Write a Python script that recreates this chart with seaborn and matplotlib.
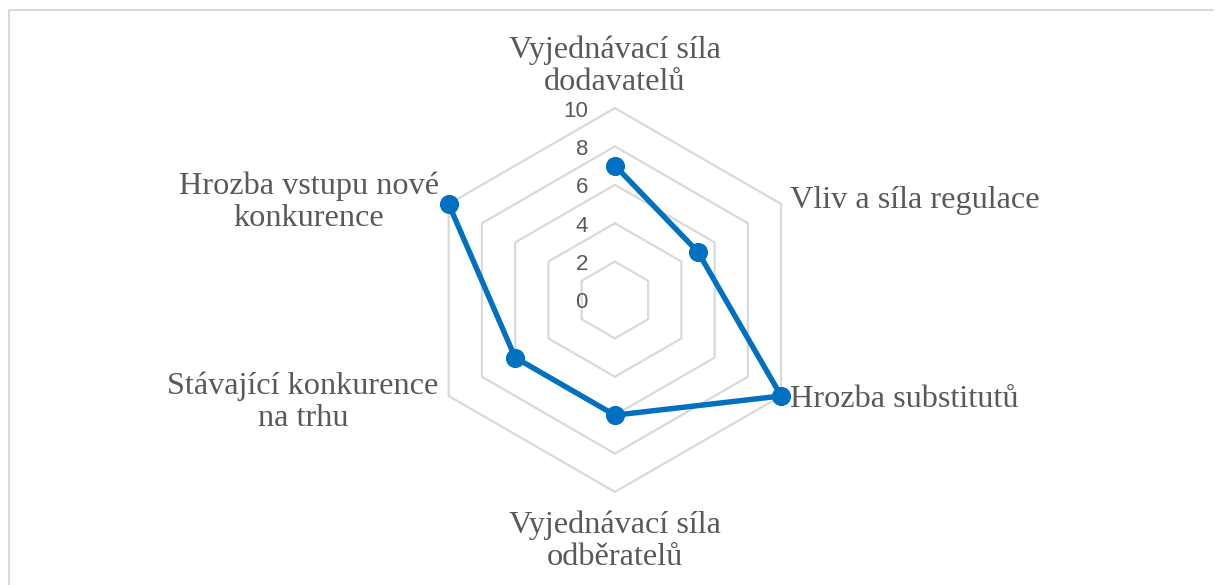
import numpy as np
import pandas as pd
import matplotlib
matplotlib.use("Agg")
import matplotlib.pyplot as plt
from matplotlib.lines import Line2D
from matplotlib.transforms import offset_copy
import seaborn as sns

categories = [
    "Vyjednávací síla\ndodavatelů",
    "Vliv a síla regulace",
    "Hrozba substitutů",
    "Vyjednávací síla\nodběratelů",
    "Stávající konkurence\nna trhu",
    "Hrozba vstupu nové\nkonkurence",
]
values = [7, 5, 10, 6, 6, 10]
ring_values = [2, 4, 6, 8, 10]
tick_labels = ["0", "2", "4", "6", "8", "10"]

sns.set_theme(style="white")
plt.rcParams["font.family"] = ["Liberation Serif", "DejaVu Serif"]

text_color = "#595959"
line_color = "#0070C0"
grid_color = "#D9D9D9"

fig = plt.figure(figsize=(12.15, 5.85), dpi=100)
ax = fig.add_axes([0.3481, 0.159, 0.316, 0.6564], projection="polar")
ax.set_theta_offset(np.pi / 2)
ax.set_theta_direction(-1)
ax.set_ylim(0, 10)
ax.grid(False)
ax.spines["polar"].set_visible(False)
ax.set_xticks([])
ax.set_yticks([])
ax.set_facecolor("none")

n = len(categories)
theta = np.arange(n) * 2 * np.pi / n
theta_closed = np.append(theta, theta[0])

# hexagonal grid rings
for rv in ring_values:
    ax.plot(theta_closed, [rv] * (n + 1), color=grid_color, lw=1.6, zorder=1)

df = pd.DataFrame({"theta": theta_closed, "value": values + values[:1]})
sns.lineplot(data=df, x="theta", y="value", sort=False, ax=ax,
             color=line_color, lw=3.9, marker="o", markersize=13,
             markeredgecolor=line_color, zorder=3)
for ln in ax.lines:
    ln.set_clip_on(False)
ax.set_xlabel("")
ax.set_ylabel("")

# radial tick labels along the top axis
tick_tr = offset_copy(ax.transData, fig=fig, x=-27, y=-3, units="dots")
for i, lab in enumerate(tick_labels):
    ax.text(0, i * 2, lab, transform=tick_tr, ha="right", va="center",
            fontsize=16, color=text_color, family=["Liberation Sans", "DejaVu Sans"])

# category labels
offsets = [
    (0, 42, "center"),
    (9, 4, "left"),
    (9, -4, "left"),
    (0, -49, "center"),
    (-10, -6, "right"),
    (-10, 2, "right"),
]
for t, lab, (dx, dy, ha) in zip(theta, categories, offsets):
    tr = offset_copy(ax.transData, fig=fig, x=dx, y=dy, units="dots")
    ax.text(t, 10, lab, transform=tr, ha=ha, va="center", multialignment="center",
            fontsize=23.2, color=text_color, linespacing=1.14)

# chart area border (top and left edges)
fig.add_artist(Line2D([9 / 1215, 1213 / 1215], [1 - 10 / 585, 1 - 10 / 585],
                      transform=fig.transFigure, color="#D9D9D9", lw=1.5))
fig.add_artist(Line2D([9 / 1215, 9 / 1215], [0, 1 - 10 / 585],
                      transform=fig.transFigure, color="#D9D9D9", lw=1.5))

fig.savefig("out.png", dpi=100)
